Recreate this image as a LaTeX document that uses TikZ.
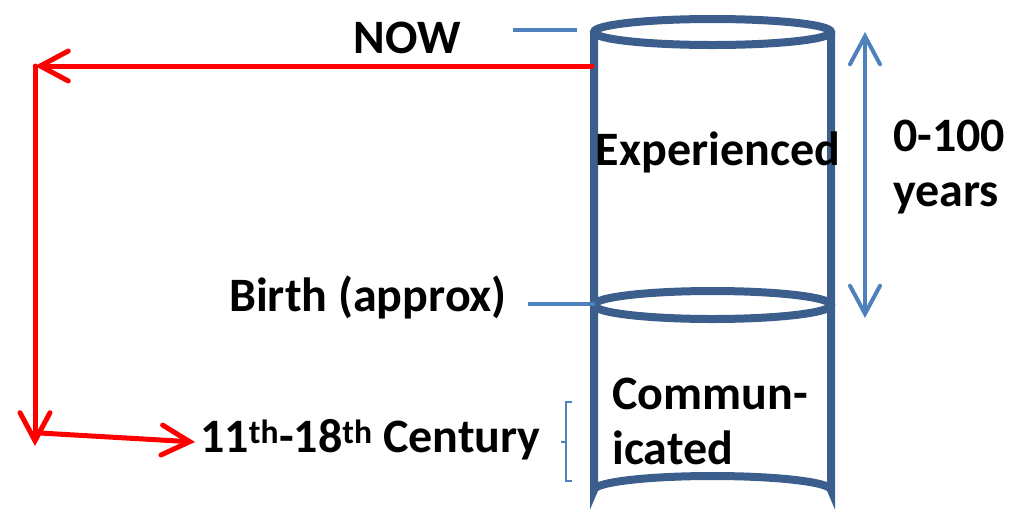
\documentclass[tikz,border=0pt]{standalone}
\usepackage{fontspec}
\setmainfont{Carlito}
\usetikzlibrary{arrows.meta}
\definecolor{cylblue}{HTML}{3B5E8C}
\definecolor{tickblue}{HTML}{4F81BD}

\begin{document}
\begin{tikzpicture}[x=1pt, y=-1pt,
    lbl/.style={font=\fontsize{48}{55}\selectfont\bfseries, inner sep=0pt},
    cyl/.style={draw=cylblue, line width=8pt},
    redarrow/.style={draw=red, line width=5pt, line cap=round,
        -{Straight Barb[length=28pt, width=30pt, line cap=round]}},
    tickline/.style={draw=tickblue, line width=4pt}]
    \useasboundingbox (0,0) rectangle (1021,515);

    % Cylinder
    \draw[cyl] (594,32) -- (594,490)
        arc[start angle=180, end angle=360, x radius=118.5, y radius=14] -- (831,32);
    \draw[cyl] (712.5,32) ellipse[x radius=118.5, y radius=13];
    \draw[cyl] (712.5,305) ellipse[x radius=118.5, y radius=14];

    % Labels
    \node[lbl] (now) at (407,38) {NOW};
    \node[lbl] (exper) at (718,152) {Experienced};
    \node[lbl, align=left, anchor=west] (comm) at (612,421) {Commun-\\icated};
    \node[lbl] (birth) at (368,297) {Birth (approx)};
    \node[lbl, anchor=west] (cent) at (200,440) {11\textsuperscript{th}-18\textsuperscript{th} Century};
    \node[lbl, align=left, anchor=west] (years) at (893,167) {0-100\\years};

    % Markers
    \coordinate (nowa) at (513,30);
    \coordinate (nowb) at (577,30);
    \coordinate (birtha) at (528,304);
    \coordinate (birthb) at (595,304);
    \draw[tickline] (nowa) -- (nowb);
    \draw[tickline] (birtha) -- (birthb);

    % Span of a life
    \coordinate (spantop) at (865,32);
    \coordinate (spanbot) at (865,318);
    \draw[tickline, {Straight Barb[length=28pt, width=30pt, line cap=round]}-{Straight Barb[length=28pt, width=30pt, line cap=round]}]
        (spantop) -- (spanbot);

    % Bracket
    \draw[tickblue, line width=1.5pt] (572,402) -- (566,402) -- (566,481) -- (572,481)
        (566,442) -- (561,442);

    % Back in time
    \coordinate (start) at (592,66);
    \coordinate (corner) at (35,66);
    \coordinate (low) at (35,446);
    \coordinate (branch) at (40,433);
    \coordinate (tip) at (195,442);
    \draw[redarrow] (start) -- (corner);
    \draw[redarrow] (corner) -- (low);
    \draw[redarrow] (branch) -- (tip);
\end{tikzpicture}
\end{document}
